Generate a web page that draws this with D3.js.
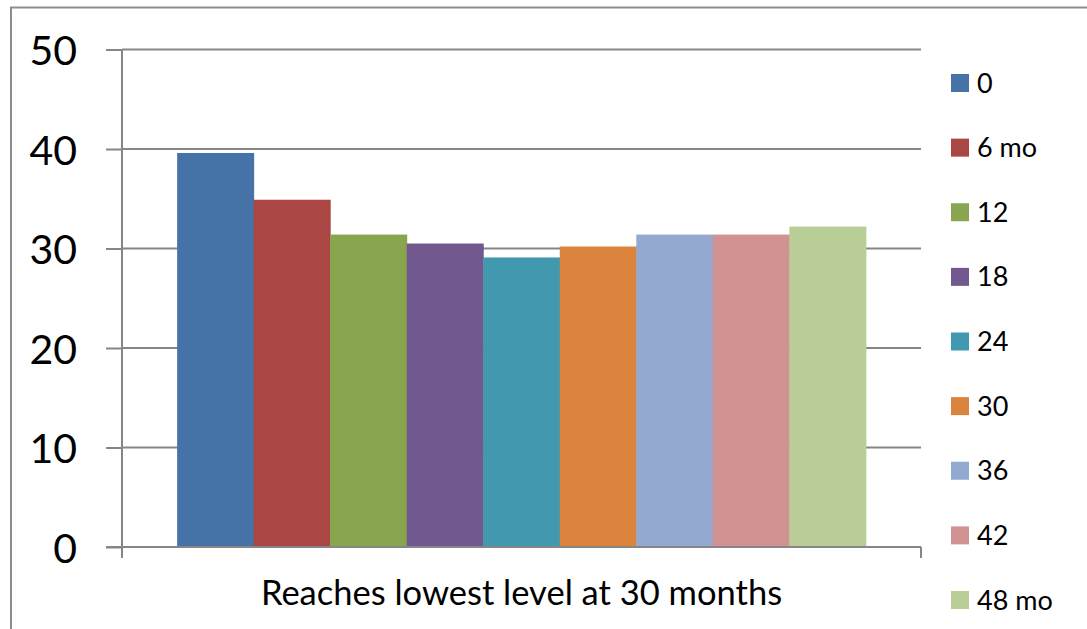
<!DOCTYPE html>
<html>
<head>
<meta charset="utf-8">
<script src="https://cdn.jsdelivr.net/npm/d3@7"></script>
<style>
  html, body { margin: 0; padding: 0; background: #fff; }
  svg { display: block; }
  text { font-family: Lato, "Open Sans", sans-serif; fill: #000; }
</style>
</head>
<body>
<svg id="chart" width="1087" height="629"></svg>
<script>
// Data: one category, nine follow-up series
const category = "Reaches lowest level at 30 months";
const seriesNames = ["0", "6 mo", "12", "18", "24", "30", "36", "42", "48 mo"];
const seriesValues = [39.6, 34.9, 31.4, 30.5, 29.1, 30.2, 31.4, 31.4, 32.2];
const seriesColors = ["#4572A7", "#AA4643", "#89A54E", "#71588F", "#4198AF",
                      "#DB843D", "#93A9CF", "#D19392", "#B9CD96"];
const yTicks = [0, 10, 20, 30, 40, 50];

const svg = d3.select("#chart");
const axisColor = "#868686";

// outer chart frame
svg.append("rect")
  .attr("x", 11).attr("y", 7.5)
  .attr("width", 1200).attr("height", 700)
  .attr("fill", "none").attr("stroke", "#8c8c8c").attr("stroke-width", 2);

const plot = { left: 122, right: 921, top: 49.5, bottom: 547 };

const y = d3.scaleLinear().domain([0, 50]).range([plot.bottom, plot.top]);
const x0 = d3.scaleBand().domain([category]).range([plot.left, plot.right]);
// series bars sit flush inside the category, with a gap on each side
const innerPad = 0.069;
const x1 = d3.scaleBand().domain(seriesNames)
  .range([x0(category) + x0.bandwidth() * innerPad,
          x0(category) + x0.bandwidth() * (1 - innerPad)])
  .paddingInner(0);

// horizontal gridlines
svg.append("g").selectAll("line")
  .data(yTicks.filter(d => d > 0))
  .join("line")
  .attr("x1", plot.left).attr("x2", plot.right)
  .attr("y1", d => y(d)).attr("y2", d => y(d))
  .attr("stroke", axisColor).attr("stroke-width", 2);

// bars
svg.append("g").selectAll("rect")
  .data(seriesNames.map((n, i) => ({ name: n, value: seriesValues[i], color: seriesColors[i] })))
  .join("rect")
  .attr("x", d => x1(d.name))
  .attr("width", x1.bandwidth() + 0.5)
  .attr("y", d => y(d.value))
  .attr("height", d => y(0) - y(d.value))
  .attr("fill", d => d.color);

// y axis
const yAxis = d3.axisLeft(y).tickValues(yTicks).tickSize(16).tickFormat(d3.format("d"));
const gy = svg.append("g").attr("transform", `translate(${plot.left},0)`).call(yAxis);
gy.select(".domain").remove();
gy.append("line").attr("x1", 0).attr("x2", 0)
  .attr("y1", plot.top).attr("y2", plot.bottom + 11)
  .attr("stroke", axisColor).attr("stroke-width", 2);
gy.selectAll(".tick line").attr("stroke", axisColor).attr("stroke-width", 2);
gy.selectAll(".tick text")
  .attr("x", -45).attr("dy", null).attr("y", 15)
  .attr("text-anchor", "end")
  .style("font-family", "Lato, 'Open Sans', sans-serif")
  .style("font-size", "41px").attr("fill", "#000");

// x axis
const xAxis = d3.axisBottom(x0).tickSize(0).tickFormat("");
const gx = svg.append("g").attr("transform", `translate(0,${plot.bottom})`).call(xAxis);
gx.select(".domain").remove();
gx.append("line").attr("x1", plot.left - 16).attr("x2", plot.right)
  .attr("y1", 0).attr("y2", 0)
  .attr("stroke", axisColor).attr("stroke-width", 2);
// category boundary tick marks
gx.selectAll(".bound")
  .data([x0(category), x0(category) + x0.bandwidth()])
  .join("line")
  .attr("class", "bound")
  .attr("x1", d => d).attr("x2", d => d)
  .attr("y1", 0).attr("y2", 11)
  .attr("stroke", axisColor).attr("stroke-width", 2);
gx.append("text")
  .attr("x", x0(category) + x0.bandwidth() / 2)
  .attr("y", 58)
  .attr("text-anchor", "middle")
  .style("font-size", "34.5px")
  .text(category);

// legend
const legend = svg.append("g");
const legendY = d3.scalePoint().domain(seriesNames).range([83, 600]);
const item = legend.selectAll("g")
  .data(seriesNames.map((n, i) => ({ name: n, color: seriesColors[i] })))
  .join("g")
  .attr("transform", d => `translate(951,${legendY(d.name)})`);
item.append("rect")
  .attr("x", 0).attr("y", -9).attr("width", 18).attr("height", 18)
  .attr("fill", d => d.color);
item.append("text")
  .attr("x", 26).attr("y", 9.5)
  .style("font-size", "27px")
  .text(d => d.name);
</script>
</body>
</html>
